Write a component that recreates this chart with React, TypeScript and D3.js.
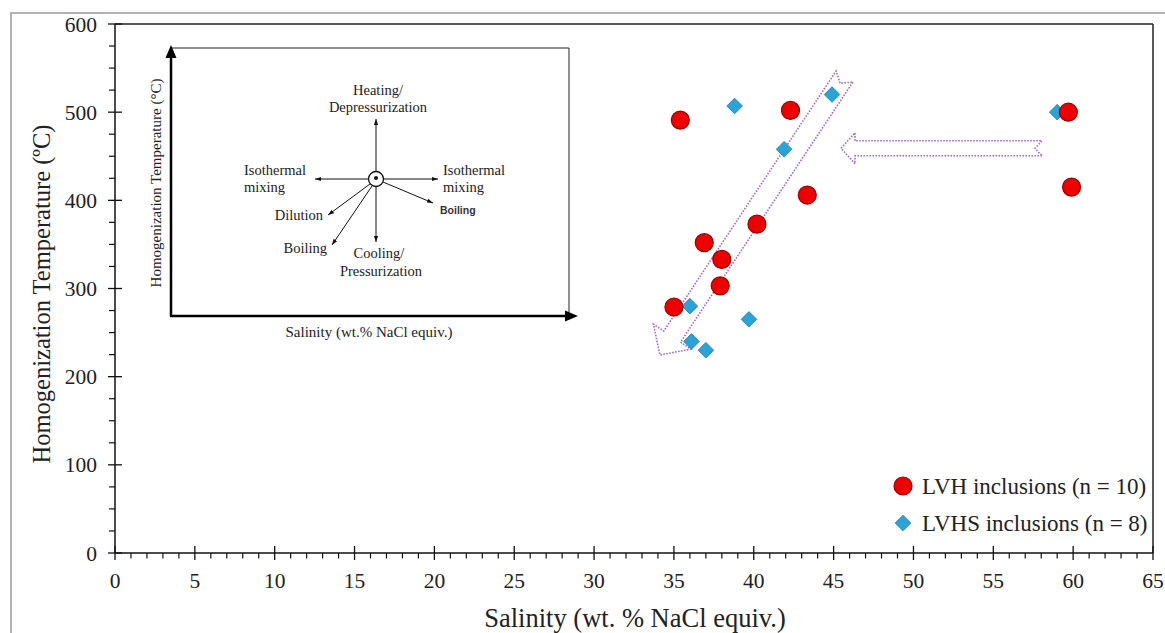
import React from "react";
import * as d3 from "d3";

const lvhSalinity = [35.4, 42.3, 43.35, 40.2, 36.9, 38.0, 37.9, 35.0, 59.7, 59.9];
const lvhTemp = [491, 502, 406, 373, 352, 333, 303, 279, 500, 415];
const lvhsSalinity = [38.8, 41.9, 44.9, 36.0, 39.7, 36.1, 37.0, 59.0];
const lvhsTemp = [507, 458, 520, 280, 265, 240, 230, 500];

const xTicks = [0, 5, 10, 15, 20, 25, 30, 35, 40, 45, 50, 55, 60, 65];
const yTicks = [0, 100, 200, 300, 400, 500, 600];
const legendLabels = ["LVH inclusions (n = 10)", "LVHS inclusions (n = 8)"];

// trend arrows, in data coordinates [salinity, temperature]
const diagTail = [45.68, 540.4];
const diagTip = [34.13, 224.6];
const horizTail = [58.05, 459];
const horizTip = [45.46, 459];

const SERIF = "'Liberation Serif', 'Times New Roman', Times, serif";

function arrowPath(x1: number, y1: number, x2: number, y2: number, w: number, h: number, hl: number, n: number) {
  const dx = x2 - x1, dy = y2 - y1;
  const L = Math.hypot(dx, dy);
  const ux = dx / L, uy = dy / L;
  const vx = -uy, vy = ux;
  const P = (u: number, v: number) => [x1 + ux * u + vx * v, y1 + uy * u + vy * v];
  const pts = [P(0, -w), P(L - hl, -w), P(L - hl, -h), P(L, 0), P(L - hl, h), P(L - hl, w), P(0, w), P(n, 0)];
  return "M" + pts.map((p) => p[0].toFixed(1) + "," + p[1].toFixed(1)).join("L") + "Z";
}

export default function App() {
  const x = d3.scaleLinear().domain([0, 65]).range([115, 1153]);
  const y = d3.scaleLinear().domain([0, 600]).range([553, 24]);
  const minorX = d3.range(0, 66, 1).filter((v) => v % 5 !== 0);
  const minorY = d3.range(0, 601, 25).filter((v) => v % 100 !== 0);
  const diamond = d3.symbol().type(d3.symbolDiamond2).size(155)()!;

  // inset geometry
  const cx = 376, cy = 179;
  const insetArrows = [
    [cx, cy - 8, cx, 119],
    [cx, cy + 8, cx, 242],
    [cx - 8, cy, 315, cy],
    [cx + 8, cy, 438, cy],
    [cx + 7, cy + 3, 433, 203],
    [cx - 6, cy + 5, 328, 215],
    [cx - 4, cy + 7, 332, 245],
  ];
  const purple = "#a06ccc";

  return (
    <svg width={1165} height={633} style={{ position: "absolute", left: 0, top: 0, background: "#fff", fontFamily: SERIF }} fontFamily={SERIF}>
      <defs>
        <marker id="ah" viewBox="0 0 10 10" refX="10" refY="5" markerWidth="6" markerHeight="6" orient="auto">
          <path d="M0,1.5L10,5L0,8.5Z" fill="#111" />
        </marker>
      </defs>
      {/* outer frame */}
      <rect x={11} y={13} width={1200} height={700} fill="none" stroke="#999" strokeWidth={1.5} />

      {/* plot box */}
      <line x1={115} x2={1153} y1={24} y2={24} stroke="#222" strokeWidth={1.5} />
      <line x1={1153} x2={1153} y1={24} y2={553} stroke="#222" strokeWidth={1.5} />
      <line x1={115} x2={115} y1={24} y2={553} stroke="#111" strokeWidth={1.5} />
      <line x1={115} x2={1153} y1={553} y2={553} stroke="#111" strokeWidth={1.5} />

      {/* y ticks */}
      {yTicks.map((t) => (
        <g key={"y" + t}>
          <line x1={108} x2={122} y1={y(t)} y2={y(t)} stroke="#111" strokeWidth={1.3} />
          <text x={97} y={y(t)} dy="0.35em" textAnchor="end" fontSize={21.5} fill="#222">{t}</text>
        </g>
      ))}
      {minorY.map((t) => (
        <line key={"my" + t} x1={109} x2={115} y1={y(t)} y2={y(t)} stroke="#111" strokeWidth={1.2} />
      ))}
      {/* x ticks */}
      {xTicks.map((t) => (
        <g key={"x" + t}>
          <line x1={x(t)} x2={x(t)} y1={546} y2={560} stroke="#111" strokeWidth={1.3} />
          <text x={x(t)} y={587.5} textAnchor="middle" fontSize={21.5} fill="#222">{t}</text>
        </g>
      ))}
      {minorX.map((t) => (
        <line key={"mx" + t} x1={x(t)} x2={x(t)} y1={553} y2={558.5} stroke="#111" strokeWidth={1.2} />
      ))}

      <text x={635} y={627} textAnchor="middle" fontSize={26.5} fill="#222">Salinity (wt. % NaCl equiv.)</text>
      <text transform="translate(41,294) rotate(-90)" dy="0.35em" textAnchor="middle" fontSize={24.5} fill="#222">Homogenization Temperature (ºC)</text>

      {/* inset */}
      <g>
        <line x1={170} x2={569} y1={48} y2={48} stroke="#222" strokeWidth={1} />
        <line x1={569} x2={569} y1={48} y2={316} stroke="#222" strokeWidth={1} />
        <line x1={171} x2={171} y1={58} y2={316} stroke="#000" strokeWidth={2.5} />
        <line x1={170} x2={566} y1={316} y2={316} stroke="#000" strokeWidth={2.5} />
        <path d="M171,45L165.5,58L176.5,58Z" fill="#000" />
        <path d="M578,316L565,310.5L565,321.5Z" fill="#000" />
        <text transform="translate(156,183) rotate(-90)" dy="0.35em" textAnchor="middle" fontSize={15} fill="#222">Homogenization Temperature (°C)</text>
        <text x={369} y={332} dy="0.35em" textAnchor="middle" fontSize={15} fill="#222">Salinity (wt.% NaCl equiv.)</text>
        <circle cx={cx} cy={cy} r={7.5} fill="#fff" stroke="#111" strokeWidth={1.3} />
        <circle cx={cx} cy={cy - 1} r={2} fill="#111" />
        {insetArrows.map((a, i) => (
          <line key={"ia" + i} x1={a[0]} y1={a[1]} x2={a[2]} y2={a[3]} stroke="#111" strokeWidth={1} markerEnd="url(#ah)" />
        ))}
        <g fontSize={14.5} fill="#222">
          <text x={378} y={90} dy="0.35em" textAnchor="middle">Heating/</text>
          <text x={378} y={107} dy="0.35em" textAnchor="middle">Depressurization</text>
          <text x={244} y={170} dy="0.35em">Isothermal</text>
          <text x={244} y={187} dy="0.35em">mixing</text>
          <text x={443} y={170} dy="0.35em">Isothermal</text>
          <text x={443} y={187} dy="0.35em">mixing</text>
          <text x={323} y={215} dy="0.35em" textAnchor="end">Dilution</text>
          <text x={327} y={248} dy="0.35em" textAnchor="end">Boiling</text>
          <text x={379} y={253} dy="0.35em" textAnchor="middle">Cooling/</text>
          <text x={381} y={271} dy="0.35em" textAnchor="middle">Pressurization</text>
        </g>
        <text x={440} y={210} dy="0.35em" fontSize={10.5} fontWeight="bold" fontFamily="'Liberation Sans', Arial, sans-serif" style={{ fontFamily: "'Liberation Sans', Arial, sans-serif" }} fill="#333">Boiling</text>
      </g>

      {/* trend arrows */}
      <path d={arrowPath(x(diagTail[0]), y(diagTail[1]), x(diagTip[0]), y(diagTip[1]), 10, 22.5, 22, 8)} fill="none" stroke={purple} strokeWidth={1.6} strokeDasharray="1.6,1.4" />
      <path d={arrowPath(x(horizTail[0]), y(horizTail[1]), x(horizTip[0]), y(horizTip[1]), 7.5, 15.5, 14, 7)} fill="none" stroke={purple} strokeWidth={1.6} strokeDasharray="1.6,1.4" />

      {/* data */}
      {lvhsSalinity.map((s, i) => (
        <path key={"b" + i} d={diamond} transform={`translate(${x(s)},${y(lvhsTemp[i])})`} fill="#2aa3d8" stroke="#1b7aa6" strokeWidth={0.8} />
      ))}
      {lvhSalinity.map((s, i) => (
        <circle key={"r" + i} cx={x(s)} cy={y(lvhTemp[i])} r={9} fill="#ee0000" stroke="#9a0000" strokeWidth={1.2} />
      ))}

      {/* legend */}
      <circle cx={903} cy={486} r={9} fill="#ee0000" stroke="#9a0000" strokeWidth={1.2} />
      <text x={922} y={486} dy="0.35em" fontSize={23} fill="#222">{legendLabels[0]}</text>
      <path d={diamond} transform="translate(903,523)" fill="#2aa3d8" stroke="#1b7aa6" strokeWidth={0.8} />
      <text x={922} y={523} dy="0.35em" fontSize={23} fill="#222">{legendLabels[1]}</text>
    </svg>
  );
}
